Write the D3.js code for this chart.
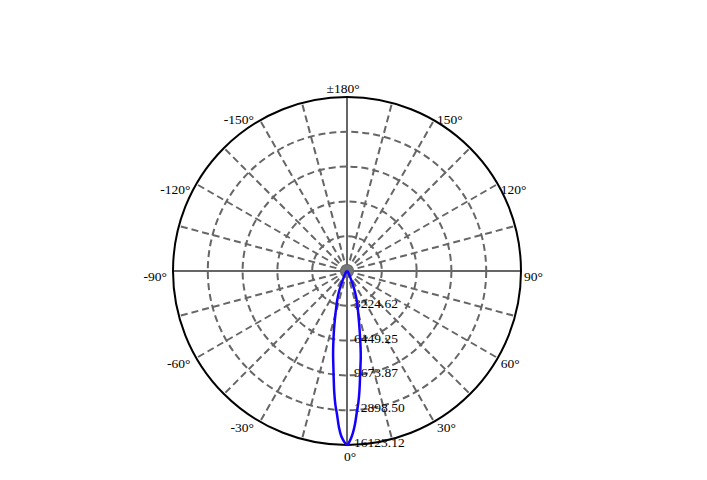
<!DOCTYPE html>
<html>
<head>
<meta charset="utf-8">
<script src="https://cdn.jsdelivr.net/npm/d3@7"></script>
<style>
	body { margin: 0; background: #fff; }
	.tick-label { font-family: "Liberation Serif", "DejaVu Serif", serif; font-size: 13.5px; fill: #000; }
</style>
</head>
<body>
<div id="chart"></div>
<script>

// intensity readings (cd) per angle, 0 deg pointing down
var angles = [-90, -80, -70, -60, -50, -40, -35, -30, -28, -26, -24, -22, -20, -18, -16, -15, -14, -13,
	-12, -11, -10, -9, -8, -7, -6, -5, -4, -3, -2, -1, 0, 1, 2, 3, 4, 5, 6, 7, 8, 9, 10, 11, 12, 13, 14,
	15, 16, 18, 20, 22, 24, 26, 28, 30, 35, 40, 50, 60, 70, 80, 90];
var intensity = [16, 32, 48, 65, 100, 165, 250, 420, 600, 850, 1250, 1800, 2400, 3000, 3700, 4150, 4650, 5250,
	5900, 6600, 7400, 8200, 9050, 10100, 11300, 12400, 13300, 14450, 15300, 15800, 16123, 15720, 15075, 14188, 13092, 12173, 11077, 9916, 8948, 8142, 7255, 6369, 5643, 4998, 4434,
	3999, 3628, 2983, 2338, 1693, 1161, 806, 564, 403, 242, 161, 97, 64, 48, 32, 16];

// ring values and angle labels
var maxValue = 16123.12;
var ringValues = [3224.62, 6449.25, 9673.87, 12898.50, 16123.12];
var gridAngles = d3.range(0, 360, 15);
var labelAngles = [0, 30, 60, 90, 120, 150, 180, -150, -120, -90, -60, -30];
var labelTexts = ["0°", "30°", "60°", "90°", "120°", "150°", "±180°", "-150°", "-120°", "-90°", "-60°", "-30°"];

// set chart dimensions
var width = 707;
var height = 480;
var cx = 347;
var cy = 271;
var radius = 174;

// radial scale and angle conversion (0 deg at the bottom, 90 deg on the right)
var r = d3.scaleLinear().domain([0, maxValue]).range([0, radius]);
function toRad(deg) { return (180 - deg) * Math.PI / 180; }

var svg = d3.select("#chart")
  .append("svg")
	.attr("width", width)
	.attr("height", height);

var chart = svg.append("g")
	.attr("transform", "translate(" + cx + "," + cy + ")");

// dashed rings
chart.selectAll(".ring")
	.data(ringValues.slice(0, -1))
  .enter().append("circle")
	.attr("class", "ring")
	.attr("r", function(d) { return r(d); })
	.style("fill", "none")
	.style("stroke", "#666")
	.style("stroke-width", 2)
	.style("stroke-dasharray", "7,4");

// spokes, solid on the main axes
chart.selectAll(".spoke")
	.data(gridAngles)
  .enter().append("line")
	.attr("class", "spoke")
	.attr("x1", 0)
	.attr("y1", 0)
	.attr("x2", function(d) { return radius * Math.sin(toRad(d)); })
	.attr("y2", function(d) { return -radius * Math.cos(toRad(d)); })
	.style("stroke", "#666")
	.style("stroke-width", 2)
	.style("stroke-dasharray", function(d) { return d % 90 === 0 ? null : "7,4"; });

// small hub where the spokes meet
chart.append("circle")
	.attr("r", 6)
	.style("fill", "#777");

// outer circle
chart.append("circle")
	.attr("r", r(maxValue))
	.style("fill", "none")
	.style("stroke", "#000")
	.style("stroke-width", 2);

// ring value labels
chart.selectAll(".ring-label")
	.data(ringValues)
  .enter().append("text")
	.attr("class", "tick-label")
	.attr("x", 7)
	.attr("y", function(d) { return r(d) + 2; })
	.text(function(d) { return d.toFixed(2); });

// angle labels around the circle
chart.selectAll(".angle-label")
	.data(labelAngles)
  .enter().append("text")
	.attr("class", "tick-label")
	.attr("x", function(d) {
		var x = radius * Math.sin(toRad(d));
		if (d === 0) return x + 3;
		if (d === 180) return x - 4;
		return d > 0 ? x + 3 : x - 6;
	})
	.attr("y", function(d) {
		var y = -radius * Math.cos(toRad(d));
		if (d === 0) return y + 15.5;
		if (d === 180) return y - 4.5;
		if (Math.abs(d) === 150) return y + 3.5;
		return y + 10;
	})
	.style("text-anchor", function(d) {
		if (d === 0 || d === 180) return "middle";
		return d > 0 ? "start" : "end";
	})
	.text(function(d, i) { return labelTexts[i]; });

// intensity curve
var points = angles.map(function(a, i) { return [toRad(a), r(intensity[i])]; });

var line = d3.lineRadial()
	.angle(function(d) { return d[0]; })
	.radius(function(d) { return d[1]; })
	.curve(d3.curveCatmullRom);

chart.append("path")
	.datum(points)
	.attr("d", line)
	.style("fill", "none")
	.style("stroke", "#1400ff")
	.style("stroke-width", 2.5);

</script>
</body>
</html>
